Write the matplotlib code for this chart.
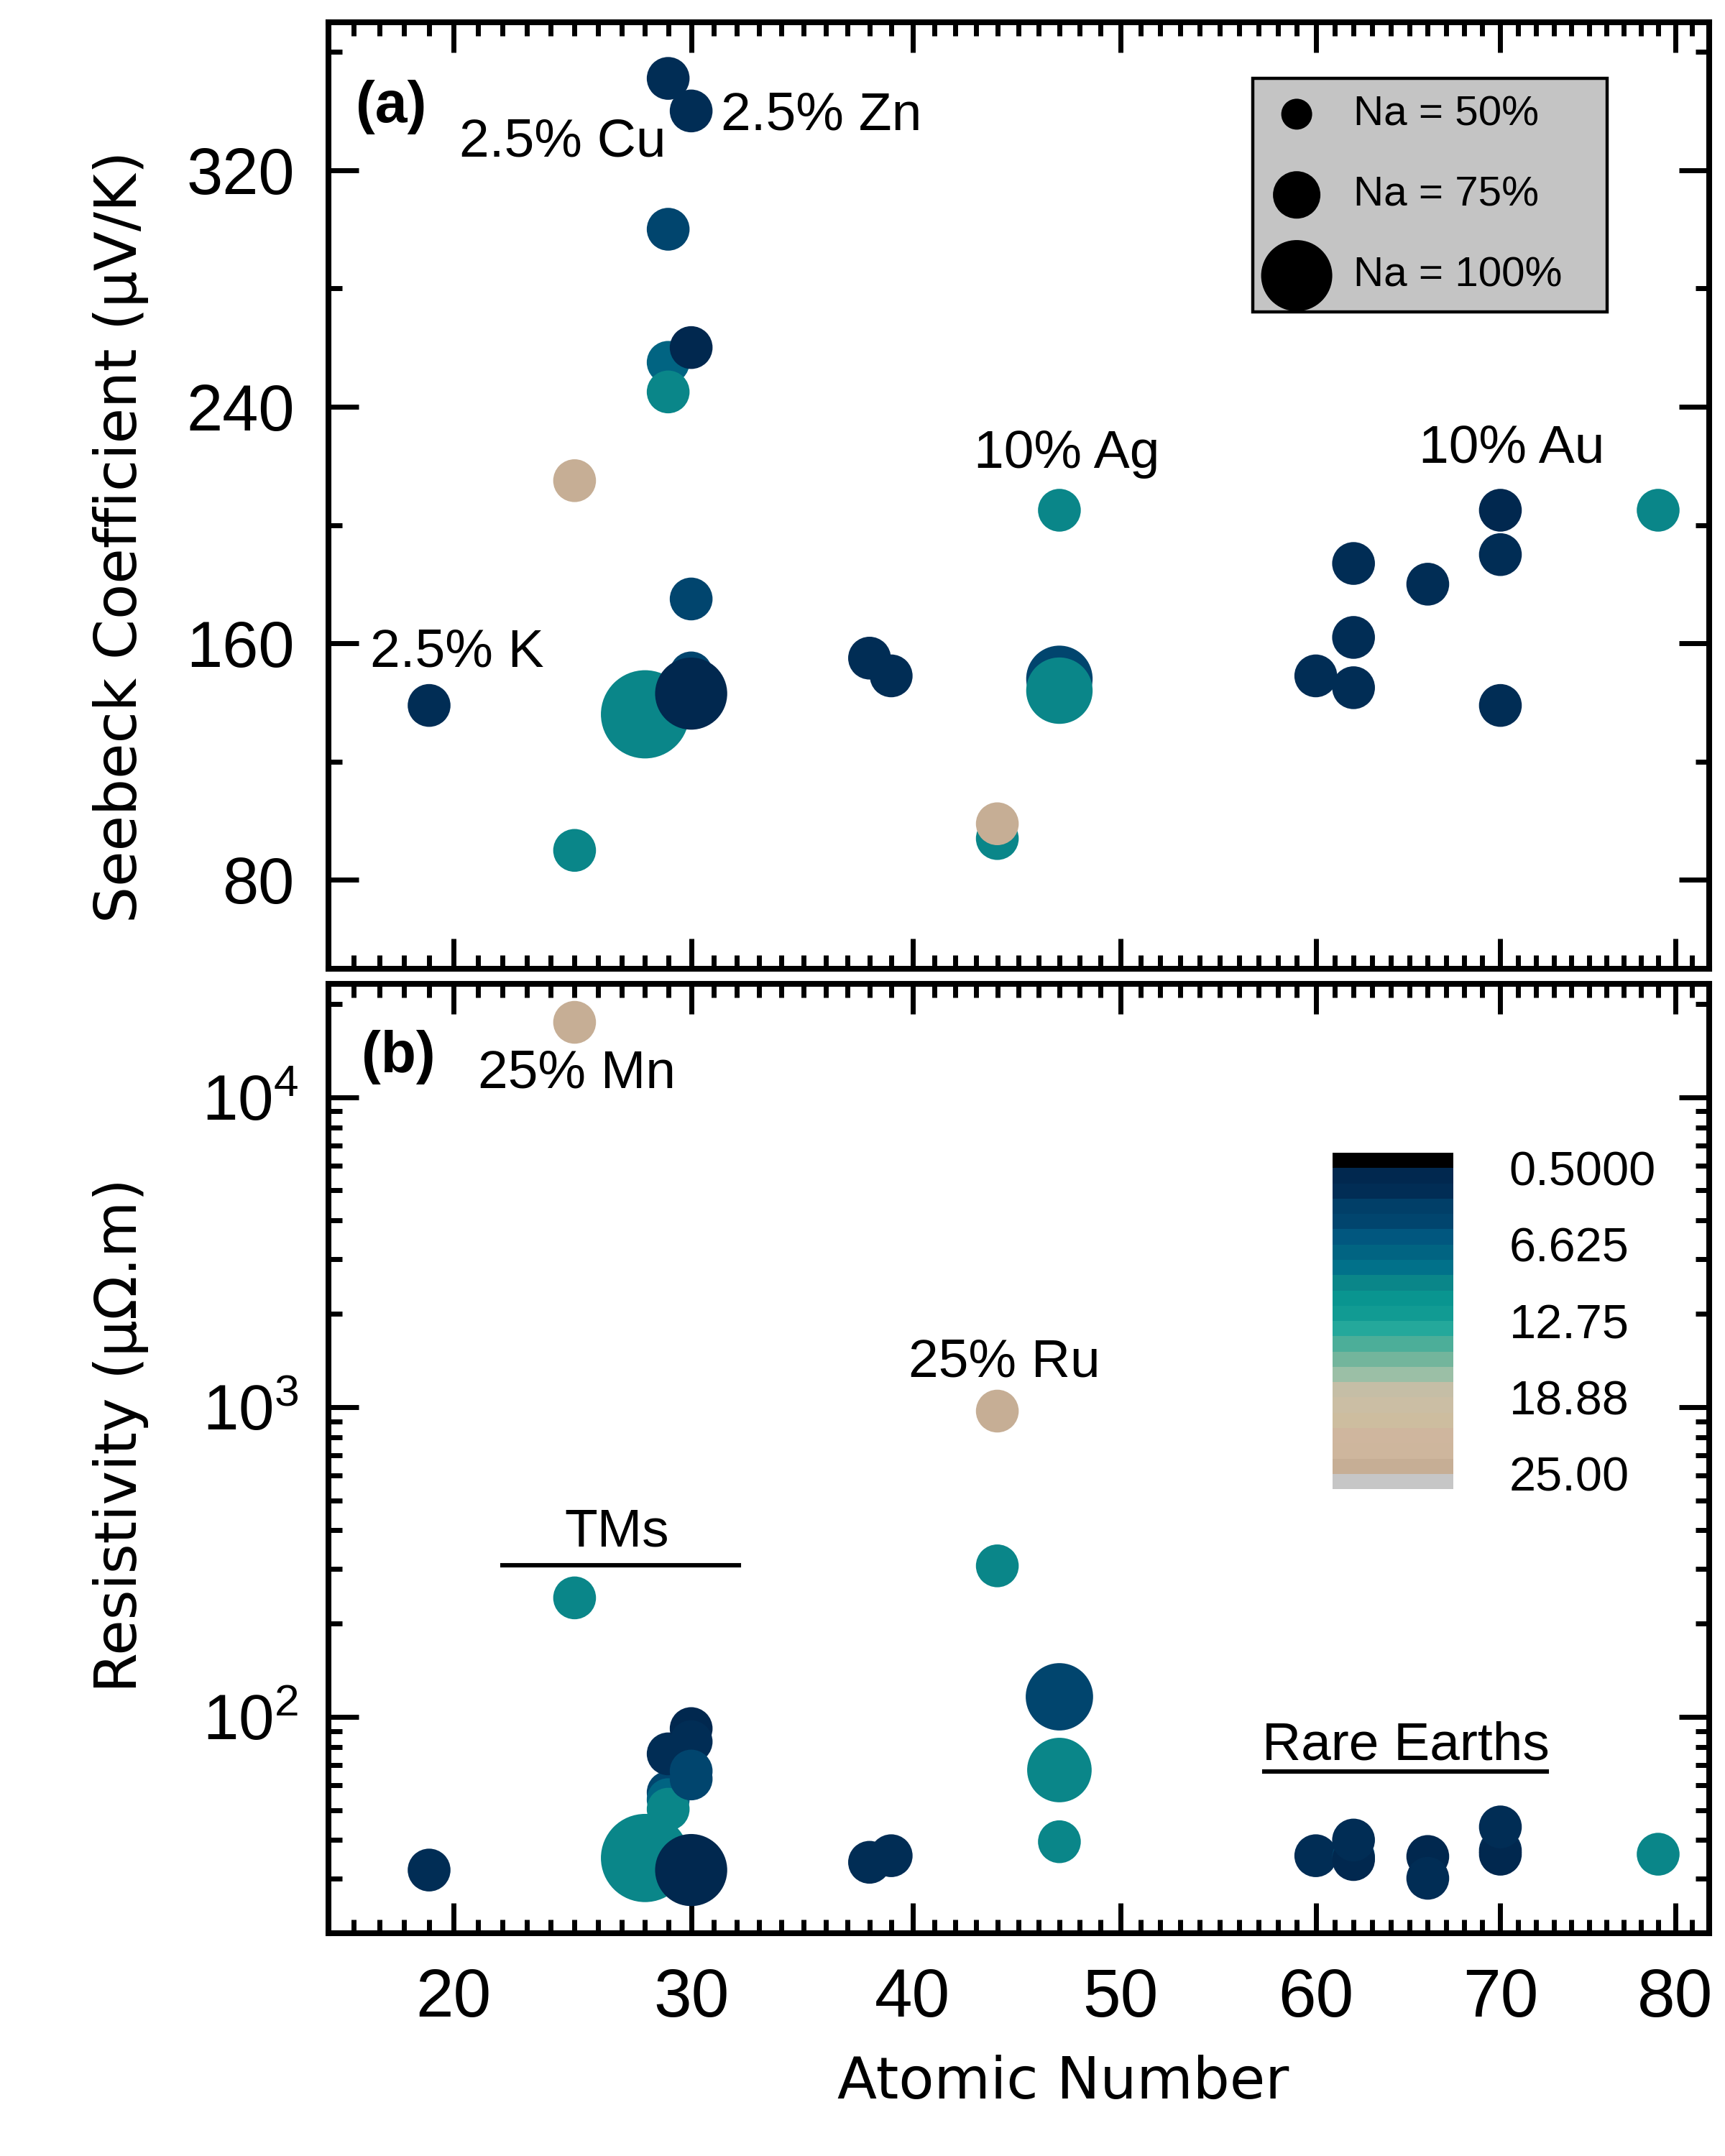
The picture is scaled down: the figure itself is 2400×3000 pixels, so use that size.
import numpy as np
import matplotlib
matplotlib.use("Agg")
import matplotlib.pyplot as plt
from matplotlib import font_manager
from matplotlib.colors import ListedColormap, Normalize
from matplotlib.cm import ScalarMappable
from matplotlib.ticker import MultipleLocator, AutoMinorLocator, LogLocator, NullFormatter

# ---------------- data ----------------
# (a) Seebeck coefficient, uV/K
z_a   = [19, 25, 25, 28, 29, 29, 29, 29, 30, 30, 30, 30, 30, 38, 39, 44, 44,
         47, 47, 47, 60, 62, 62, 62, 66, 70, 70, 70, 79]
seeb  = [139, 215, 90, 136, 351, 300, 255, 245, 340, 260, 175, 150, 143, 155, 149, 94, 99,
         205, 148, 144, 149, 187, 162, 145, 180, 205, 190, 139, 205]
dop_a = [2.5, 25, 10, 10, 2.5, 5, 7.5, 10, 2.5, 1.0, 5, 5, 1.0, 2.5, 2.5, 10, 25,
         10, 5, 10, 2.5, 2.5, 2.5, 2.5, 2.5, 1.0, 2.5, 2.5, 10]
na_a  = [68, 68, 68, 118, 68, 68, 68, 68, 68, 68, 68, 68, 101, 68, 68, 68, 68,
         68, 95, 95, 68, 68, 68, 68, 68, 68, 68, 68, 68]

# (b) resistivity, uOhm.m
z_b   = [19, 25, 25, 28, 29, 29, 29, 29, 30, 30, 30, 30, 30, 38, 39, 44, 44,
         47, 47, 47, 60, 62, 62, 62, 66, 66, 70, 70, 70, 79]
resis = [32, 17450, 242, 35, 57, 54, 50.3, 75.9, 91.6, 83.1, 66.8, 63, 32, 33.9, 35.6, 307, 970,
         116, 67.3, 39.5, 35.6, 35.3, 34.6, 40, 35.4, 30.1, 37, 36, 44.1, 36]
dop_b = [2.5, 25, 10, 10, 5, 7.5, 10, 2.5, 1.0, 2.5, 5, 5, 1.0, 2.5, 2.5, 10, 25,
         5, 10, 10, 2.5, 3.5, 1.0, 2.5, 1.0, 2.5, 2.5, 1.0, 2.5, 10]
na_b  = [68, 68, 68, 118, 68, 68, 68, 68, 68, 68, 68, 68, 101, 68, 68, 68, 68,
         96, 93, 68, 68, 68, 68, 68, 68, 68, 68, 68, 68, 68]

legend_na = [50, 75, 100]
legend_labels = ["Na = 50%", "Na = 75%", "Na = 100%"]

cbar_ticks = [0.5, 6.625, 12.75, 18.875, 25.0]
cbar_ticklabels = ["0.5000", "6.625", "12.75", "18.88", "25.00"]

band_colors = ["#01284f", "#012d55", "#013f68", "#01456e", "#01577f",
               "#016482", "#01718a", "#0a8689", "#099590", "#119b93",
               "#24a89b", "#4cae99", "#73b59c", "#9bbfa6", "#c5bea6",
               "#cbbea4", "#cdbd9f", "#cfb69e", "#ceb69d", "#c6ae95"]

# ---------------- style ----------------
DPI = 200
names = {f.name for f in font_manager.fontManager.ttflist}
has_narrow = "Liberation Sans Narrow" in names
narrow = "Liberation Sans Narrow" if has_narrow else "Liberation Sans"
plt.rcParams["font.family"] = ["Liberation Sans", "DejaVu Sans"]
plt.rcParams["mathtext.fontset"] = "custom"
plt.rcParams["mathtext.rm"] = "Liberation Sans"
plt.rcParams["mathtext.it"] = "Liberation Sans:italic"
plt.rcParams["mathtext.bf"] = "Liberation Sans:bold"

cmap = ListedColormap(band_colors)
cmap.set_under("#000000")
cmap.set_over("#c6c6c6")
norm = Normalize(vmin=0.5, vmax=25)


def na_size(na):
    # marker diameter (px) from the legend's size key, in points^2
    na = np.asarray(na, dtype=float)
    px = np.where(na > 100, 99 + (na - 100) * 1.32,
                  np.interp(na, [50, 75, 100], [43, 66, 99]))
    return (px * 72.0 / DPI) ** 2


def fwd(x):
    return np.log(np.asarray(x, dtype=float) + 115.0)


def inv(y):
    return np.exp(y) - 115.0


def style_ax(ax):
    ax.set_xscale("function", functions=(fwd, inv))
    ax.set_xlim(15, 82)
    ax.xaxis.set_major_locator(MultipleLocator(10))
    ax.xaxis.set_minor_locator(MultipleLocator(1))
    for sp in ax.spines.values():
        sp.set_linewidth(2.9)
    ax.tick_params(which="both", direction="in", top=True, right=True, width=2.5)
    ax.tick_params(which="major", length=15)
    ax.tick_params(which="minor", length=7)


fig = plt.figure(figsize=(12, 15), dpi=DPI)
ax1 = fig.add_axes([0.1904, 0.5507, 0.8004, 0.4390])
ax2 = fig.add_axes([0.1904, 0.1033, 0.8004, 0.4403])

# ---------------- (a) ----------------
style_ax(ax1)
ax1.scatter(z_a, seeb, s=na_size(na_a), c=dop_a, cmap=cmap, norm=norm,
            edgecolors="none", zorder=3)
ax1.set_ylim(50, 370)
ax1.yaxis.set_major_locator(MultipleLocator(80))
ax1.yaxis.set_minor_locator(AutoMinorLocator(2))
ax1.tick_params(axis="x", labelbottom=False)
ax1.tick_params(axis="y", labelsize=32.5, pad=17)
ax1.set_ylabel("Seebeck Coefficient (μV/K)", fontsize=29, family="DejaVu Sans")
ax1.yaxis.set_label_coords(-0.130, 0.456)

ax1.text(0.0197, 0.91, "(a)", transform=ax1.transAxes, fontsize=29,
         fontweight="bold", va="center", ha="left")
ann = dict(fontsize=27, va="center")
ax1.text(28.9, 329.5, "2.5% Cu", ha="right", **ann)
ax1.text(31.3, 338.5, "2.5% Zn", ha="left", **ann)
ax1.text(42.9, 224, "10% Ag", ha="left", **ann)
ax1.text(65.5, 226, "10% Au", ha="left", **ann)
ax1.text(16.65, 157, "2.5% K", ha="left", **ann)

leg_size = 24 if has_narrow else 21
handles = [ax1.scatter([], [], s=na_size(n), c="black", edgecolors="none")
           for n in legend_na]
leg = ax1.legend(handles, legend_labels, loc="upper left",
                 bbox_to_anchor=(0.6694, 0.7001, 0.2565, 0.2407), mode="expand",
                 borderaxespad=0, frameon=True, fancybox=False, framealpha=1,
                 facecolor="#c4c4c4", edgecolor="black",
                 prop={"family": narrow, "size": leg_size},
                 handlelength=1.3, handletextpad=0.7, labelspacing=1.0,
                 borderpad=0.4, scatterpoints=1)
leg.get_frame().set_linewidth(1.6)

# ---------------- (b) ----------------
style_ax(ax2)
ax2.scatter(z_b, resis, s=na_size(na_b), c=dop_b, cmap=cmap, norm=norm,
            edgecolors="none", zorder=3)
ax2.set_yscale("log")
ax2.set_ylim(20, 23200)
ax2.yaxis.set_major_locator(LogLocator(base=10, numticks=10))
ax2.yaxis.set_minor_locator(LogLocator(base=10, subs=np.arange(2, 10), numticks=50))
ax2.yaxis.set_minor_formatter(NullFormatter())
ax2.tick_params(axis="y", labelsize=32, pad=15)
ax2.tick_params(axis="x", labelsize=34, pad=17)
ax2.set_ylabel("Resistivity (μΩ.m)", fontsize=29, family="DejaVu Sans")
ax2.yaxis.set_label_coords(-0.130, 0.525)
ax2.set_xlabel("Atomic Number", fontsize=29, family="DejaVu Sans")
ax2.xaxis.set_label_coords(0.532, -0.128)

ax2.text(0.0238, 0.923, "(b)", transform=ax2.transAxes, fontsize=29,
         fontweight="bold", va="center", ha="left")
ax2.text(21.0, 11900, "25% Mn", ha="left", **ann)
ax2.text(39.8, 1390, "25% Ru", ha="left", **ann)
ax2.text(26.8, 394, "TMs", ha="center", **ann)
ax2.plot([22, 32.1], [308, 308], color="black", lw=2.2)
ax2.text(64.8, 80.6, "Rare Earths", ha="center", **ann)
ax2.plot([57.3, 72.6], [66.4, 66.4], color="black", lw=2.2)

# colour bar (dopant level)
cax = fig.add_axes([0.7725, 0.3093, 0.0700, 0.1560])
sm = ScalarMappable(norm=norm, cmap=cmap)
cb = fig.colorbar(sm, cax=cax, extend="both", extendrect=True, extendfrac=0.05)
cb.outline.set_visible(False)
cb.set_ticks(cbar_ticks, labels=cbar_ticklabels)
cax.invert_yaxis()
cax.tick_params(length=0, pad=28, labelsize=26 if has_narrow else 24)
for t in cax.get_yticklabels():
    t.set_family(narrow)

fig.savefig("out.png", dpi=DPI)
